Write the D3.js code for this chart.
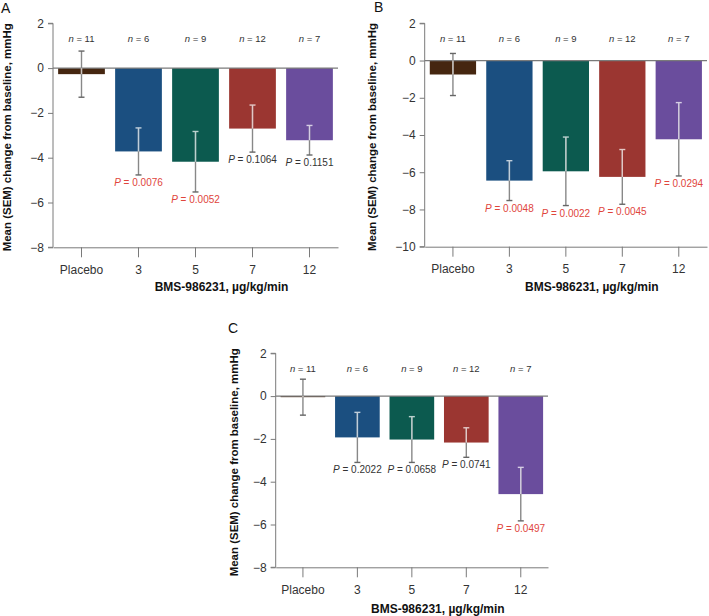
<!DOCTYPE html>
<html>
<head>
<meta charset="utf-8">
<script src="https://cdn.jsdelivr.net/npm/d3@7"></script>
<style>
  body { margin: 0; background: #fff; }
  svg { display: block; font-family: "Liberation Sans", Arial, sans-serif; }
</style>
</head>
<body>
<svg id="chart" width="709" height="616"></svg>
<script>
// ---------- data ----------
const categories = ["Placebo", "3", "5", "7", "12"];
const nLabels = ["11", "6", "9", "12", "7"];
const barColors = ["#452610", "#1b4f80", "#0c5a4f", "#9b3631", "#6a4d9d"];

const meansA = [-0.27, -3.72, -4.18, -2.70, -3.22];
const semA   = [1.03, 1.05, 1.35, 1.05, 0.66];
const pA     = ["", "0.0076", "0.0052", "0.1064", "0.1151"];
const sigA   = [false, true, true, false, false];

const meansB = [-0.75, -6.45, -5.95, -6.25, -4.23];
const semB   = [1.13, 1.07, 1.84, 1.47, 1.97];
const pB     = ["", "0.0048", "0.0022", "0.0045", "0.0294"];
const sigB   = [false, true, true, true, true];

const meansC = [-0.05, -1.93, -2.03, -2.17, -4.58];
const semC   = [0.84, 1.17, 1.07, 0.69, 1.25];
const pC     = ["", "0.2022", "0.0658", "0.0741", "0.0497"];
const sigC   = [false, false, false, false, true];

const yTicksA = [2, 0, -2, -4, -6, -8];
const yTicksB = [2, 0, -2, -4, -6, -8, -10];
const yTicksC = [2, 0, -2, -4, -6, -8];

const yTitle = "Mean (SEM) change from baseline, mmHg";
const xTitle = "BMS-986231, \u00b5g/kg/min";

// ---------- drawing ----------
const svg = d3.select("#chart");
const axisColor = "#7a7a7a";
const textColor = "#333";
const redColor = "#e0453c";

function drawPanel(cfg) {
  const g = svg.append("g");
  const x = d3.scaleBand().domain(categories).range([cfg.x0, cfg.x1])
    .paddingInner(0.18).paddingOuter(0.09);
  const y = d3.scaleLinear().domain(cfg.yDomain).range([cfg.yBottom, cfg.yTop]);

  // y axis
  const yAxis = d3.axisLeft(y).tickValues(cfg.yTicks).tickSize(5).tickPadding(4)
    .tickFormat(d => d < 0 ? "\u2212" + Math.abs(d) : String(d));
  const ya = g.append("g").attr("transform", `translate(${cfg.x0},0)`).call(yAxis);
  ya.select(".domain").attr("stroke", axisColor).attr("d", `M-5,${cfg.yTop}H0V${cfg.yBottom}H-5`);
  ya.selectAll(".tick line").attr("stroke", axisColor);
  ya.selectAll(".tick text").attr("fill", textColor).style("font-size", "12px");

  // x axis
  const xAxis = d3.axisBottom(x).tickSize(10).tickPadding(8).tickSizeOuter(0);
  const xa = g.append("g").attr("transform", `translate(0,${cfg.yBottom})`).call(xAxis);
  xa.select(".domain").attr("stroke", axisColor);
  xa.selectAll(".tick line").attr("stroke", axisColor);
  xa.selectAll(".tick text").attr("fill", textColor).style("font-size", "12px");

  const idx = d3.range(categories.length);

  // bars
  g.selectAll("rect.bar").data(idx).join("rect")
    .attr("x", i => x(categories[i]))
    .attr("width", x.bandwidth())
    .attr("y", i => y(Math.max(0, cfg.means[i])))
    .attr("height", i => Math.abs(y(cfg.means[i]) - y(0)))
    .attr("fill", i => barColors[i]);

  // zero line
  g.append("line").attr("x1", cfg.x0).attr("x2", cfg.x1)
    .attr("y1", y(0)).attr("y2", y(0))
    .attr("stroke", axisColor).attr("stroke-width", 1.2);

  // error bars
  idx.forEach(i => {
    const cx = x(categories[i]) + x.bandwidth() / 2;
    const m = cfg.means[i], s = cfg.sem[i];
    const top = m + s, bot = m - s;
    const light = d3.interpolateRgb(barColors[i], "#ffffff")(0.72);
    g.append("line").attr("x1", cx).attr("x2", cx)
      .attr("y1", y(top)).attr("y2", y(bot))
      .attr("stroke", "#888").attr("stroke-width", 1.4);
    const inTop = Math.min(top, 0), inBot = Math.max(bot, m);
    if (inTop > inBot) {
      g.append("line").attr("x1", cx).attr("x2", cx)
        .attr("y1", y(inTop)).attr("y2", y(inBot))
        .attr("stroke", light).attr("stroke-width", 1.4);
    }
    [top, bot].forEach(v => {
      const inside = v <= 0 && v >= m;
      g.append("line").attr("x1", cx - 3).attr("x2", cx + 3)
        .attr("y1", y(v)).attr("y2", y(v))
        .attr("stroke", inside ? light : "#666").attr("stroke-width", 1.4);
    });
    if (cfg.p[i]) {
      const t = g.append("text").attr("x", cx).attr("y", y(bot) + 11)
        .attr("text-anchor", "middle").style("font-size", "10px")
        .attr("fill", cfg.sig[i] ? redColor : textColor);
      t.append("tspan").style("font-style", "italic").text("P");
      t.append("tspan").text(" = " + cfg.p[i]);
    }
    const nt = g.append("text").attr("x", cx).attr("y", cfg.yTop + 18.5)
      .attr("text-anchor", "middle").style("font-size", "9.5px").attr("fill", textColor);
    nt.append("tspan").style("font-style", "italic").text("n");
    nt.append("tspan").text(" = " + nLabels[i]);
  });

  // axis titles
  g.append("text")
    .attr("transform", `translate(${cfg.yTitleX},${(cfg.yTop + cfg.yBottom) / 2 + 2}) rotate(-90)`)
    .attr("text-anchor", "middle").attr("dy", "0.35em")
    .attr("textLength", 228).attr("lengthAdjust", "spacingAndGlyphs")
    .style("font-size", "11.5px").style("font-weight", "bold").attr("fill", "#111")
    .text(yTitle);
  g.append("text")
    .attr("x", (cfg.x0 + cfg.x1) / 2 + 26).attr("y", cfg.xTitleY)
    .attr("text-anchor", "middle")
    .style("font-size", "12px").style("font-weight", "bold").attr("fill", "#111")
    .text(xTitle);

  g.append("text").attr("x", cfg.letterX).attr("y", cfg.letterY)
    .style("font-size", "14px").attr("fill", "#111").text(cfg.letter);
}

drawPanel({ letter: "A", letterX: 1, letterY: 13,
  x0: 53, x1: 338, yTop: 23.3, yBottom: 247.3, yDomain: [-8, 2], yTicks: yTicksA,
  means: meansA, sem: semA, p: pA, sig: sigA, yTitleX: 7, xTitleY: 291 });

drawPanel({ letter: "B", letterX: 374, letterY: 12,
  x0: 424.7, x1: 707, yTop: 23.3, yBottom: 246.7, yDomain: [-10, 2], yTicks: yTicksB,
  means: meansB, sem: semB, p: pB, sig: sigB, yTitleX: 372, xTitleY: 291 });

drawPanel({ letter: "C", letterX: 228, letterY: 333,
  x0: 275.7, x1: 548, yTop: 353.3, yBottom: 567.3, yDomain: [-8, 2], yTicks: yTicksC,
  means: meansC, sem: semC, p: pC, sig: sigC, yTitleX: 234, xTitleY: 613 });
</script>
</body>
</html>
